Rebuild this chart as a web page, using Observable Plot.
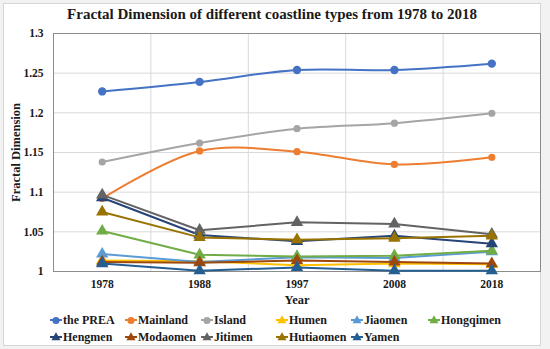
<!DOCTYPE html>
<html><head><meta charset="utf-8">
<script src="https://cdn.jsdelivr.net/npm/d3@7"></script>
<script src="https://cdn.jsdelivr.net/npm/@observablehq/plot@0.6"></script>
<style>
html,body{margin:0;padding:0;background:#f2f2f2;}
#wrap{position:relative;width:550px;height:349px;overflow:hidden;}
#box{position:absolute;left:3px;top:3px;width:536px;height:341px;background:#fff;border:1px solid #d6d6d6;}
#chart{position:absolute;left:0;top:0;}
#title{position:absolute;left:3px;top:6px;width:538px;text-align:center;font:bold 15px 'Liberation Serif',serif;color:#1a1a1a;}
.leg{position:absolute;display:flex;align-items:center;font:bold 12px 'Liberation Serif',serif;color:#1a1a1a;white-space:nowrap;}
.leg svg{margin-right:1px;}
</style></head>
<body>
<div id="wrap"><div id="box"></div><div id="chart"></div><div id="title">Fractal Dimension of different coastline types from 1978 to 2018</div><div id="legend"></div></div>
<script>
const years = ["1978", "1988", "1997", "2008", "2018"];
const seriesNames = ["the PREA", "Mainland", "Island", "Humen", "Jiaomen", "Hongqimen", "Hengmen", "Modaomen", "Jitimen", "Hutiaomen", "Yamen"];
const seriesColors = ["#4472C4", "#ED7D31", "#A5A5A5", "#FFC000", "#5B9BD5", "#70AD47", "#264478", "#9E480E", "#636363", "#997300", "#255E91"];
const seriesSymbols = ["circle", "circle", "circle", "triangle", "triangle", "triangle", "triangle", "triangle", "triangle", "triangle", "triangle"];
const prea      = [1.227, 1.239, 1.254, 1.254, 1.262];
const mainland  = [1.092, 1.152, 1.151, 1.135, 1.144];
const island    = [1.138, 1.162, 1.180, 1.187, 1.1995];
const humen     = [1.014, 1.013, 1.008, 1.010, 1.009];
const jiaomen   = [1.022, 1.012, 1.018, 1.017, 1.025];
const hongqimen = [1.051, 1.021, 1.019, 1.020, 1.026];
const hengmen   = [1.093, 1.046, 1.038, 1.045, 1.035];
const modaomen  = [1.012, 1.011, 1.014, 1.012, 1.010];
const jitimen   = [1.0966, 1.052, 1.062, 1.060, 1.047];
const hutiaomen = [1.075, 1.043, 1.040, 1.042, 1.045];
const yamen     = [1.010, 1.001, 1.005, 1.001, 1.001];
const yTicks = [1, 1.05, 1.1, 1.15, 1.2, 1.25, 1.3];

const seriesValues = [prea, mainland, island, humen, jiaomen, hongqimen, hengmen, modaomen, jitimen, hutiaomen, yamen];
const rows = [];
seriesNames.forEach((name, s) => seriesValues[s].forEach((v, i) => rows.push({series: name, s, i, value: v})));

const marks = [
  Plot.gridY(yTicks, {stroke: "#d9d9d9", strokeOpacity: 1}),
  Plot.ruleX(d3.range(1, years.length), {x: i => i - 0.5, stroke: "#d9d9d9"}),
  Plot.frame({stroke: "#8c8c8c"}),
  Plot.axisY(yTicks, {tickSize: 0, tickPadding: 10, tickFormat: d => String(+d.toFixed(2)), label: null}),
  Plot.axisY([], {label: "Fractal Dimension", labelAnchor: "center", labelArrow: "none", labelOffset: 42, fontSize: 12.5}),
  Plot.axisX(d3.range(years.length), {tickSize: 0, tickPadding: 8, tickFormat: i => years[i], label: null}),
  Plot.axisX([], {label: "Year", labelAnchor: "center", labelArrow: "none", labelOffset: 32, fontSize: 12.5})
];
seriesNames.forEach((name, s) => {
  const data = rows.filter(r => r.s === s);
  const circ = seriesSymbols[s] === "circle";
  marks.push(Plot.line(data, {x: "i", y: "value", stroke: seriesColors[s], strokeWidth: 2, curve: circ ? "catmull-rom" : "linear"}));
  marks.push(Plot.dot(data, {x: "i", y: "value", fill: seriesColors[s], stroke: "none", symbol: seriesSymbols[s], r: s === 0 ? 4.2 : (circ ? 3.6 : 4.6)}));
});

const chart = Plot.plot({
  width: 550, height: 349,
  marginLeft: 53, marginRight: 10, marginTop: 33, marginBottom: 78,
  style: {background: "transparent", fontFamily: "'Liberation Serif', serif", fontSize: "11.5px", fontWeight: "bold", color: "#1a1a1a", overflow: "visible"},
  x: {domain: [-0.5, years.length - 0.5]},
  y: {domain: [1, 1.3]},
  marks
});
document.getElementById("chart").appendChild(chart);

const legendX = [56, 131, 207, 282, 357, 434];
const legendY = [320, 337];
const leg = document.getElementById("legend");
seriesNames.forEach((name, s) => {
  const col = s % 6, row = Math.floor(s / 6);
  const div = document.createElement("div");
  div.className = "leg";
  div.style.left = (legendX[col] - 6) + "px";
  div.style.top = (legendY[row] - 8) + "px";
  div.style.height = "16px";
  const svg = d3.create("svg").attr("width", 12).attr("height", 12);
  svg.append("line").attr("x1", 0).attr("x2", 12).attr("y1", 6).attr("y2", 6).attr("stroke", seriesColors[s]).attr("stroke-width", 2);
  const sym = seriesSymbols[s] === "circle" ? d3.symbolCircle : d3.symbolTriangle;
  svg.append("path").attr("d", d3.symbol(sym, seriesSymbols[s] === "circle" ? 40 : 36)()).attr("transform", "translate(6,6.5)").attr("fill", seriesColors[s]);
  div.appendChild(svg.node());
  const span = document.createElement("span");
  span.textContent = name;
  div.appendChild(span);
  leg.appendChild(div);
});
</script>
</body></html>
